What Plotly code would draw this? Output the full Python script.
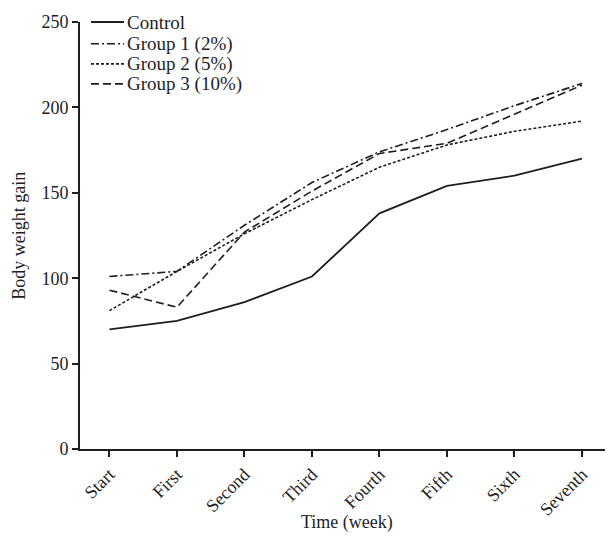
import plotly.graph_objects as go

weeks = ["Start", "First", "Second", "Third", "Fourth", "Fifth", "Sixth", "Seventh"]
control = [70, 75, 86, 101, 138, 154, 160, 170]
group1 = [101, 104, 131, 156, 174, 187, 201, 214]
group2 = [81, 104, 126, 146, 165, 178, 186, 192]
group3 = [93, 83, 127, 151, 173, 179, 196, 213]
y_ticks = [0, 50, 100, 150, 200, 250]

series_names = ["Control", "Group 1 (2%)", "Group 2 (5%)", "Group 3 (10%)"]
series_values = [control, group1, group2, group3]
dashes = ["solid", "8px,3px,2px,3px", "3px,2px", "8px,4px"]
widths = [1.8, 1.6, 1.6, 1.6]

FAM = "Liberation Serif, Times New Roman, serif"
INK = "#1e1e1e"
font = dict(family=FAM, size=18, color=INK)
legfont = dict(family=FAM, size=19, color=INK)

fig = go.Figure()
for name, vals, dash, w in zip(series_names, series_values, dashes, widths):
    fig.add_trace(go.Scatter(
        x=list(range(len(weeks))), y=vals, name=name, mode="lines",
        line=dict(color=INK, width=w, dash=dash),
        showlegend=False,
    ))

# legend drawn as line samples + text (paper coordinates)
leg_rows = [1.0, 0.949, 0.902, 0.855]
shapes = []
annotations = []
for ly, name, dash, w in zip(leg_rows, series_names, dashes, widths):
    shapes.append(dict(type="line", xref="paper", yref="paper",
                       x0=0.0206, x1=0.0826, y0=ly, y1=ly,
                       line=dict(color=INK, width=w, dash=dash)))
    annotations.append(dict(text=name, xref="paper", yref="paper",
                            x=0.0844, y=ly, xanchor="left", yanchor="middle",
                            showarrow=False, font=legfont))

annotations.append(dict(text="Time (week)", xref="paper", yref="paper",
                        x=0.5, y=-0.171, xanchor="center", yanchor="middle",
                        showarrow=False, font=font))
annotations.append(dict(text="Body weight gain", xref="paper", yref="paper",
                        x=-0.116, y=0.5, xanchor="center", yanchor="middle",
                        textangle=-90, showarrow=False, font=font))

fig.update_layout(
    width=605, height=531,
    margin=dict(l=72, r=0, t=14, b=90, autoexpand=False),
    paper_bgcolor="white", plot_bgcolor="white",
    font=font,
    showlegend=False,
    shapes=shapes,
    annotations=annotations,
    xaxis=dict(
        range=[-0.436, 7.46], automargin=False,
        tickmode="array", tickvals=list(range(len(weeks))), ticktext=weeks,
        tickangle=-45, ticks="outside", ticklen=6, tickwidth=1.6, tickcolor=INK,
        showline=True, linecolor=INK, linewidth=1.6,
        showgrid=False, zeroline=False,
    ),
    yaxis=dict(
        range=[0, 250], automargin=False,
        tickmode="array", tickvals=y_ticks,
        ticks="outside", ticklen=6, tickwidth=1.6, tickcolor=INK,
        showline=True, linecolor=INK, linewidth=1.6,
        showgrid=False, zeroline=False,
    ),
)

fig.write_html("out.html")
